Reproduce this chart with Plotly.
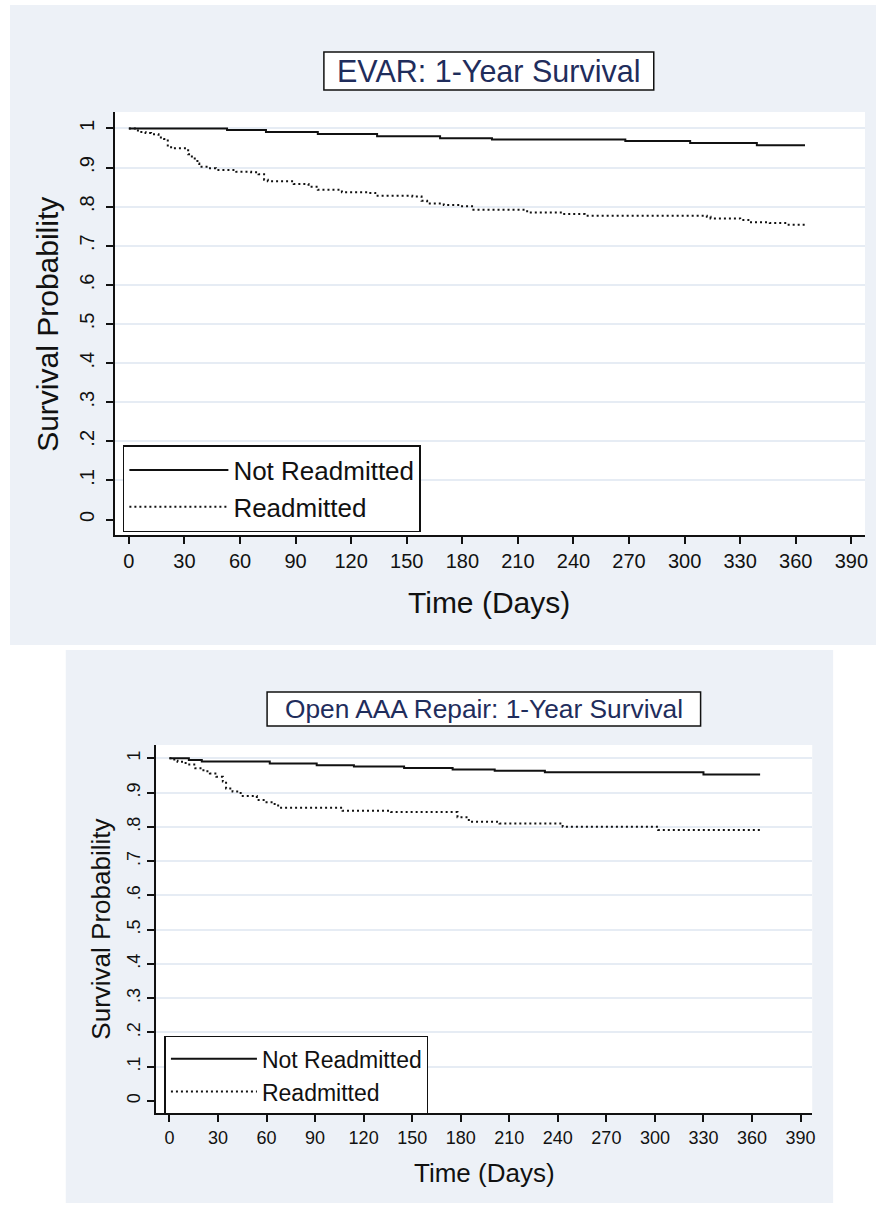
import plotly.graph_objects as go

FONT = "Liberation Sans, Arial, sans-serif"
W, H = 879, 1205

# ---------------- data ----------------
# EVAR: 1-Year Survival
evar_not_days = [0, 53, 74, 102, 134, 168, 196, 268, 303, 339, 365]
evar_not_surv = [1.0, 0.996, 0.991, 0.986, 0.980, 0.975, 0.972, 0.968, 0.963, 0.957, 0.957]

evar_re_days = [0, 4, 6, 9, 12, 16, 19, 21, 24, 32, 34, 37, 38, 43, 47, 58, 66, 70, 73, 75,
                89, 97, 102, 115, 129, 133, 153, 158, 161, 170, 179, 186, 215, 234, 246,
                312, 314, 330, 335, 346, 355, 365]
evar_re_surv = [1.0, 0.995, 0.991, 0.988, 0.985, 0.977, 0.973, 0.952, 0.949, 0.934, 0.923,
                0.910, 0.902, 0.898, 0.894, 0.889, 0.888, 0.883, 0.869, 0.865, 0.858, 0.851,
                0.843, 0.837, 0.835, 0.828, 0.826, 0.815, 0.808, 0.804, 0.801, 0.792, 0.785,
                0.781, 0.777, 0.774, 0.770, 0.766, 0.760, 0.758, 0.754, 0.750]

# Open AAA Repair: 1-Year Survival
open_not_days = [0, 12, 20, 62, 91, 114, 145, 175, 201, 232, 330, 365]
open_not_surv = [1.0, 0.995, 0.991, 0.985, 0.980, 0.976, 0.972, 0.967, 0.964, 0.959, 0.953, 0.953]

open_re_days = [0, 3, 5, 10, 16, 21, 25, 29, 33, 35, 39, 44, 54, 60, 65, 68, 107, 137, 178,
                185, 204, 243, 302, 365]
open_re_surv = [1.0, 0.993, 0.990, 0.982, 0.971, 0.962, 0.956, 0.946, 0.932, 0.912, 0.903,
                0.890, 0.878, 0.872, 0.862, 0.856, 0.847, 0.843, 0.828, 0.815, 0.810, 0.800,
                0.791, 0.791]

series_names = ["Not Readmitted", "Readmitted"]
titles = ["EVAR: 1-Year Survival", "Open AAA Repair: 1-Year Survival"]
x_title = "Time (Days)"
y_title = "Survival Probability"

x_tick_vals = [0, 30, 60, 90, 120, 150, 180, 210, 240, 270, 300, 330, 360, 390]
y_tick_vals = [0, 0.1, 0.2, 0.3, 0.4, 0.5, 0.6, 0.7, 0.8, 0.9, 1.0]
y_tick_text = ["0", ".1", ".2", ".3", ".4", ".5", ".6", ".7", ".8", ".9", "1"]
grid_vals = [0.1, 0.2, 0.3, 0.4, 0.5, 0.6, 0.7, 0.8, 0.9, 1.0]

# ---------------- styling ----------------
PANEL_BG = "#edf1f7"
GRID = "#e6ecf4"
INK = "#111111"
NAVY = "#1f2d5c"


def px(x):
    return x / W


def py(y):
    return 1 - y / H


fig = go.Figure()

solid = dict(shape="hv", color=INK, width=2)
dotted = dict(shape="hv", color=INK, width=2, dash="2px,3px")

fig.add_trace(go.Scatter(x=evar_not_days, y=evar_not_surv, mode="lines", line=solid,
                         name=series_names[0], xaxis="x", yaxis="y", legend="legend",
                         hoverinfo="skip"))
fig.add_trace(go.Scatter(x=evar_re_days, y=evar_re_surv, mode="lines", line=dotted,
                         name=series_names[1], xaxis="x", yaxis="y", legend="legend",
                         hoverinfo="skip"))
fig.add_trace(go.Scatter(x=open_not_days, y=open_not_surv, mode="lines", line=solid,
                         name=series_names[0], xaxis="x2", yaxis="y2", legend="legend2",
                         hoverinfo="skip"))
fig.add_trace(go.Scatter(x=open_re_days, y=open_re_surv, mode="lines", line=dotted,
                         name=series_names[1], xaxis="x2", yaxis="y2", legend="legend2",
                         hoverinfo="skip"))


def xaxis(domain, rng, anchor, fsize):
    return dict(domain=domain, range=rng, anchor=anchor, tickmode="array",
                tickvals=x_tick_vals, ticktext=[str(v) for v in x_tick_vals],
                showgrid=False, zeroline=False, showline=True, linecolor=INK, linewidth=2,
                ticks="outside", ticklen=7, tickwidth=1.5, tickcolor=INK,
                tickfont=dict(family=FONT, size=fsize, color=INK), fixedrange=True)


def yaxis(domain, rng, anchor, fsize, standoff):
    return dict(domain=domain, range=rng, anchor=anchor, tickmode="array",
                tickvals=y_tick_vals, ticktext=y_tick_text, tickangle=-90,
                ticklabelstandoff=standoff,
                showgrid=False, zeroline=False, showline=True, linecolor=INK, linewidth=2,
                ticks="outside", ticklen=7, tickwidth=1.5, tickcolor=INK,
                tickfont=dict(family=FONT, size=fsize, color=INK), fixedrange=True,
                minor=dict(tickmode="array", tickvals=grid_vals, ticks="inside", ticklen=0,
                           showgrid=True, gridcolor=GRID, gridwidth=2))


top_x = [px(115), px(868)]
top_y = [py(535), py(112)]
bot_x = [px(156.7), px(815)]
bot_y = [py(1113), py(745)]

shapes = [
    dict(type="rect", xref="paper", yref="paper", x0=px(10), x1=1.0, y0=py(645), y1=py(5),
         fillcolor=PANEL_BG, line=dict(width=0), layer="below"),
    dict(type="rect", xref="paper", yref="paper", x0=px(66), x1=px(836), y0=py(1203), y1=py(650),
         fillcolor=PANEL_BG, line=dict(width=0), layer="below"),
    dict(type="rect", xref="paper", yref="paper", x0=top_x[0], x1=top_x[1], y0=top_y[0], y1=top_y[1],
         fillcolor="white", line=dict(width=0), layer="below"),
    dict(type="rect", xref="paper", yref="paper", x0=bot_x[0], x1=bot_x[1], y0=bot_y[0], y1=bot_y[1],
         fillcolor="white", line=dict(width=0), layer="below"),
    dict(type="rect", xref="paper", yref="paper", x0=px(325), x1=px(656), y0=py(90), y1=py(52),
         fillcolor="white", line=dict(color=INK, width=1.5), layer="below"),
    dict(type="rect", xref="paper", yref="paper", x0=px(268), x1=px(703), y0=py(726), y1=py(692),
         fillcolor="white", line=dict(color=INK, width=1.5), layer="below"),
]

annotations = [
    dict(text=titles[0], x=px(490.5), y=py(71), xref="paper", yref="paper", showarrow=False,
         xanchor="center", yanchor="middle", font=dict(family=FONT, size=30.5, color=NAVY)),
    dict(text=titles[1], x=px(486), y=py(709), xref="paper", yref="paper", showarrow=False,
         xanchor="center", yanchor="middle", font=dict(family=FONT, size=26.3, color=NAVY)),
    dict(text=x_title, x=px(491), y=py(602), xref="paper", yref="paper", showarrow=False,
         xanchor="center", yanchor="middle", font=dict(family=FONT, size=30, color=INK)),
    dict(text=y_title, x=px(48), y=py(324), xref="paper", yref="paper", showarrow=False,
         textangle=-90, xanchor="center", yanchor="middle", font=dict(family=FONT, size=30, color=INK)),
    dict(text=x_title, x=px(486), y=py(1173), xref="paper", yref="paper", showarrow=False,
         xanchor="center", yanchor="middle", font=dict(family=FONT, size=26, color=INK)),
    dict(text=y_title, x=px(101), y=py(929), xref="paper", yref="paper", showarrow=False,
         textangle=-90, xanchor="center", yanchor="middle", font=dict(family=FONT, size=26, color=INK)),
]

fig.update_layout(
    width=W, height=H, margin=dict(l=0, r=0, t=0, b=0, pad=0),
    paper_bgcolor="white", plot_bgcolor="white",
    xaxis=xaxis(top_x, [-7.7, 397.4], "y", 20),
    yaxis=yaxis(top_y, [-0.0396, 1.042], "x", 20, 4),
    xaxis2=xaxis(bot_x, [-8.2, 397.2], "y2", 18),
    yaxis2=yaxis(bot_y, [-0.035, 1.0388], "x2", 18, 0),
    legend=dict(x=px(123.3), y=py(445), xanchor="left", yanchor="top", bgcolor="white",
                bordercolor=INK, borderwidth=1.5, itemwidth=99, tracegroupgap=0,
                font=dict(family=FONT, size=26, color=INK)),
    legend2=dict(x=px(165), y=py(1035.7), xanchor="left", yanchor="top", bgcolor="white",
                 bordercolor=INK, borderwidth=1.5, itemwidth=86, tracegroupgap=0,
                 font=dict(family=FONT, size=23, color=INK)),
    shapes=shapes,
    annotations=annotations,
    showlegend=True,
)

fig.write_html("out.html", config={"displayModeBar": False},
               post_script="document.body.style.margin='0';")
